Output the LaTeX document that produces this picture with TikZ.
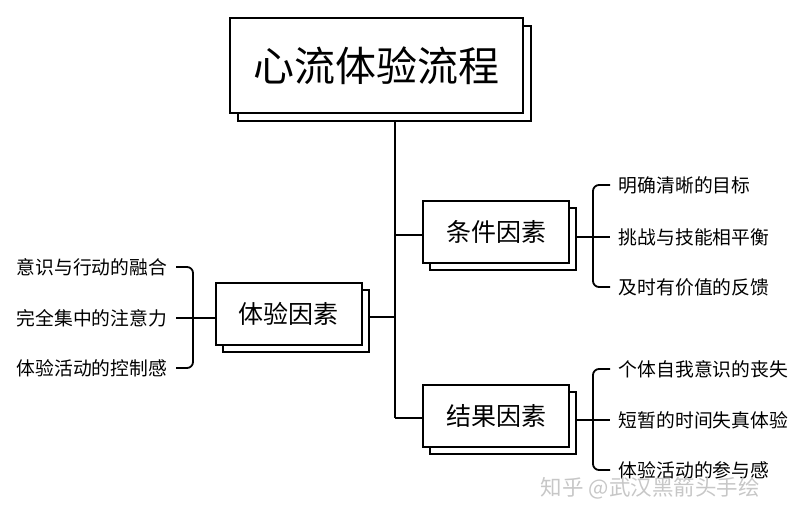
\documentclass[tikz,border=0pt]{standalone}
\usepackage{fontspec}
\setmainfont{Noto Sans CJK SC}
\begin{document}
\begin{tikzpicture}[x=1pt,y=-1pt,line width=1.8pt,
  leaf/.style={font=\fontsize{18.8}{21}\selectfont,inner sep=0pt},
  box/.style={draw,fill=white,line width=2pt,inner sep=0pt},
  br/.style={rounded corners=6pt}]
\useasboundingbox (0,0) rectangle (804,516);
% main
\node[box,minimum width=293,minimum height=95] (ms) at (384.5,73.5) {};
\node[box,minimum width=293,minimum height=95,font=\fontsize{41}{45}\selectfont] (m) at (376.5,65.5) {心流体验流程};
% sub boxes
\foreach \n/\x/\y/\t in {c/496/232/条件因素, t/288.5/314/体验因素, r/496/416/结果因素}{
  \node[box,minimum width=146,minimum height=62] (\n s) at (\x+7,\y+7) {};
  \node[box,minimum width=146,minimum height=62,font=\fontsize{25}{28}\selectfont] (\n) at (\x,\y) {\t};
}
\coordinate (j1) at (395,235);
\coordinate (j2) at (395,317);
\coordinate (j3) at (395,418);
\draw (ms.south -| j1) -- (j3);
\draw (j1) -- (j1 -| c.west);
\draw (j2) -- (j2 -| ts.east);
\draw (j3) -- (j3 -| r.west);
\tikzset{lw/.style={anchor=west,xshift=8pt}, le/.style={anchor=east,xshift=-8pt}}
% leaves right top
\node[leaf,lw] (c1) at (610,185) {明确清晰的目标};
\node[leaf,lw] (c2) at (610,237) {挑战与技能相平衡};
\node[leaf,lw] (c3) at (610,287) {及时有价值的反馈};
\draw[br] (610,185) -- (593,185) -- (593,287) -- (610,287);
\draw (cs.east |- c2) -- (610,237);
% leaves right bottom
\node[leaf,lw] (r1) at (610,369) {个体自我意识的丧失};
\node[leaf,lw] (r2) at (610,420) {短暂的时间失真体验};
\node[leaf,lw] (r3) at (610,470) {体验活动的参与感};
\draw[br] (610,369) -- (593,369) -- (593,470) -- (610,470);
\draw (rs.east |- r2) -- (610,420);
% leaves left
\node[leaf,le] (t1) at (176,267) {意识与行动的融合};
\node[leaf,le] (t2) at (176,318) {完全集中的注意力};
\node[leaf,le] (t3) at (176,368) {体验活动的控制感};
\draw[br] (176,267) -- (193,267) -- (193,368) -- (176,368);
\draw (176,318) -- (176,318 -| t.west);
% watermark
\node[font=\fontsize{21.5}{24}\selectfont,text=black!22,anchor=west,inner sep=0pt] (wm) at (540,488) {知乎 @武汉黑箭头手绘};
\end{tikzpicture}
\end{document}
